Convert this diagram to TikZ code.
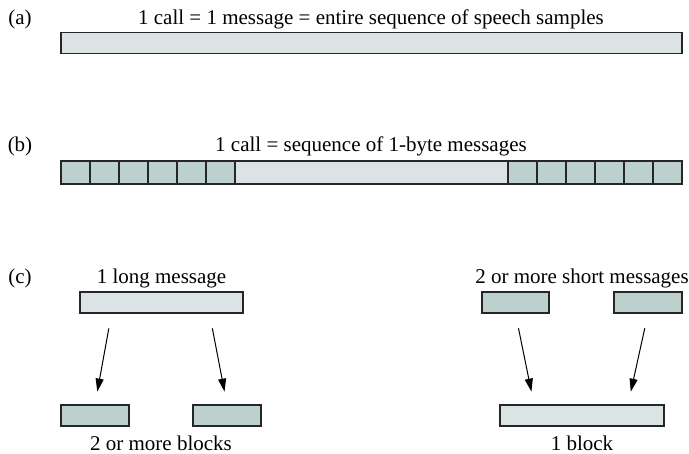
\documentclass[tikz,border=0pt]{standalone}
\usepackage{fontspec}
\setmainfont{Liberation Serif}
\usetikzlibrary{arrows.meta}

\definecolor{msgpale}{HTML}{DCE3E5}
\definecolor{msgdark}{HTML}{BCD0CD}

\begin{document}
\begin{tikzpicture}[x=1pt,y=-1pt,>={Triangle[length=13pt,width=8pt]},
  font=\fontsize{21}{24}\selectfont,
  pale/.style={draw=black!85,line width=1.2pt,fill=msgpale,inner sep=0pt,minimum height=21pt},
  dark/.style={draw=black!85,line width=1.2pt,fill=msgdark,inner sep=0pt,minimum height=21pt},
  conn/.style={->,line width=1pt,shorten <=15pt,shorten >=13pt}]
\useasboundingbox (0,0) rectangle (689,454);
% (a) one message
\node (la) at (20,19) {(a)};
\node (ta) at (371,19) {1 call = 1 message = entire sequence of speech samples};
\node[pale,minimum width=621pt] (wholemsg) at (371.5,43) {};
% (b) 1-byte messages
\node (lb) at (20,146) {(b)};
\node (tb) at (371,146) {1 call = sequence of 1-byte messages};
\node[pale,minimum width=621pt,minimum height=23pt] (callbar) at (371.5,172.5) {};
\foreach \i in {0,...,5}{
  \node[dark,minimum width=29pt,minimum height=23pt] (l\i) at ({75.5+29*\i},172.5) {};
  \node[dark,minimum width=29pt,minimum height=23pt] (r\i) at ({522.5+29*\i},172.5) {};}
% (c) split and merge
\node (lc) at (20,278) {(c)};
\node (tlong) at (161.5,278) {1 long message};
\node[pale,minimum width=163pt] (long) at (161.5,302.5) {};
\node[dark,minimum width=68pt] (blkA) at (95,415.5) {};
\node[dark,minimum width=68pt] (blkB) at (227,415.5) {};
\node (tblocks) at (161,443) {2 or more blocks};
\draw[conn] ([xshift=-50pt]long.south) -- (blkA.north);
\draw[conn] ([xshift=48pt]long.south) -- (blkB.north);
\node (tshort) at (582,278) {2 or more short messages};
\node[dark,minimum width=67pt] (shA) at (515.5,302.5) {};
\node[dark,minimum width=68pt] (shB) at (648,302.5) {};
\node[pale,minimum width=164pt] (oneblk) at (582,415.5) {};
\node (tone) at (582,443) {1 block};
\draw[conn] (shA.south) -- ([xshift=-48pt]oneblk.north);
\draw[conn] (shB.south) -- ([xshift=46pt]oneblk.north);
\end{tikzpicture}
\end{document}
